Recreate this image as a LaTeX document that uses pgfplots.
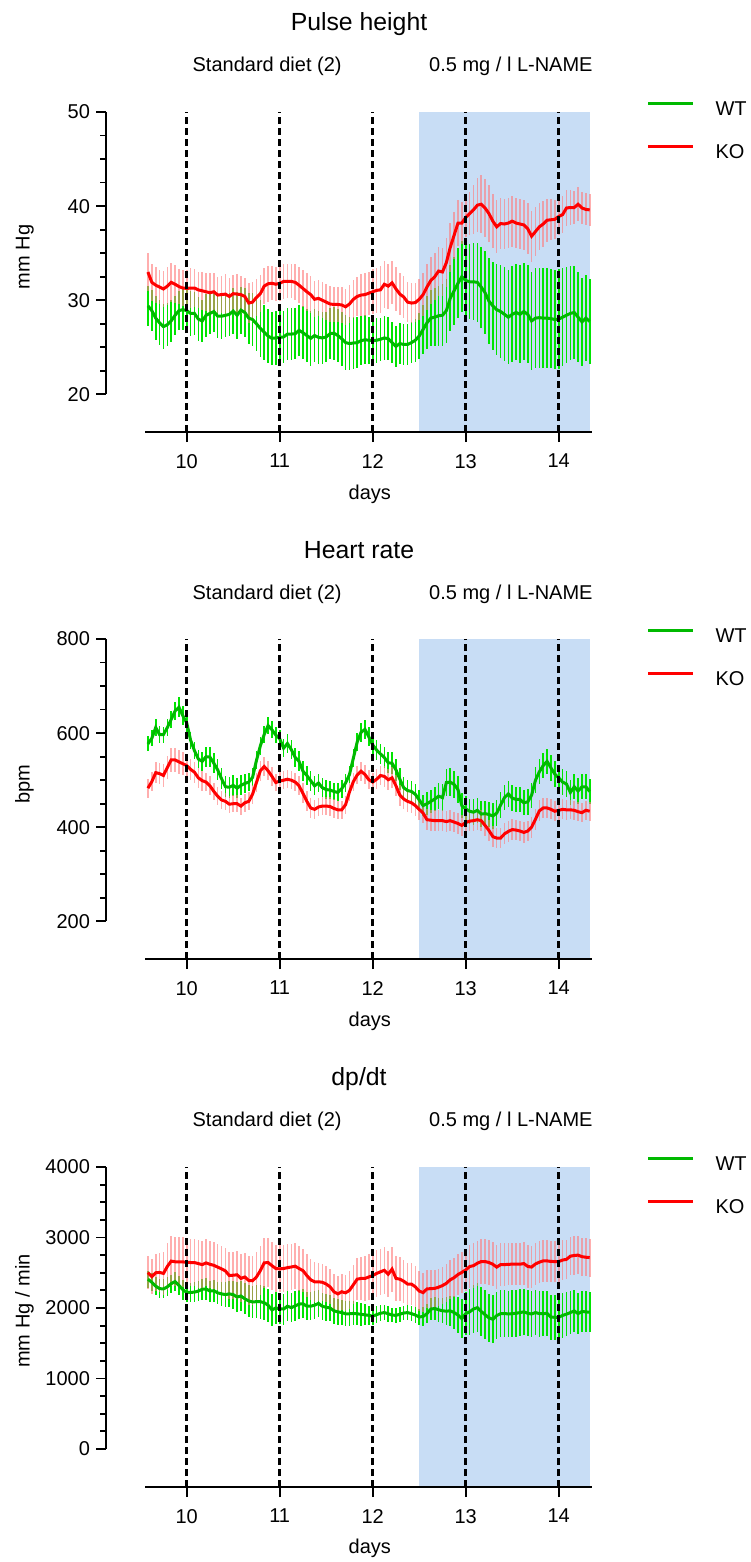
\documentclass[border=0pt]{standalone}
\usepackage{pgfplots}
\pgfplotsset{compat=1.18}
\usepackage{pgfplotstable}
\usepackage{fontspec}
\setmainfont{Liberation Sans}
\definecolor{bgblue}{RGB}{200,221,245}
\definecolor{wtline}{RGB}{0,185,0}
\definecolor{wtbar}{RGB}{0,228,0}
\definecolor{koline}{RGB}{255,0,0}
\definecolor{kobar}{RGB}{255,120,120}

% Pulse height (mm Hg)
\pgfplotstableread{
x wt wte ko koe
9.583 29.4 2.1 33.0 2.0
9.625 28.9 2.2 31.9 2.0
9.667 28.1 2.3 31.6 1.9
9.708 27.6 2.4 31.4 1.8
9.750 27.2 2.4 31.2 1.9
9.792 27.4 2.3 31.5 2.0
9.833 27.8 2.2 31.9 2.1
9.875 28.4 2.1 31.7 2.0
9.917 28.9 2.1 31.45 1.9
9.958 29.0 2.2 31.3 1.9
10.000 28.9 2.3 31.25 2.0
10.042 28.6 2.4 31.3 2.1
10.083 28.6 2.3 31.3 2.0
10.125 28.0 2.3 31.1 1.9
10.167 27.8 2.2 31.0 2.0
10.208 28.4 2.3 30.9 2.0
10.250 28.6 2.2 30.8 2.1
10.292 28.8 2.2 30.9 2.0
10.333 28.3 2.3 30.55 1.9
10.375 28.3 2.4 30.6 2.0
10.417 28.4 2.3 30.65 2.1
10.458 28.5 2.3 30.4 2.0
10.500 28.85 2.4 30.7 2.0
10.542 28.4 2.5 30.65 2.1
10.583 28.95 2.5 30.6 2.0
10.625 28.7 2.6 30.4 2.0
10.667 28.1 2.7 29.7 2.1
10.708 27.95 2.8 29.8 2.1
10.750 27.5 2.9 30.3 2.0
10.792 27.0 3.0 30.7 2.0
10.833 26.6 2.9 31.5 1.9
10.875 26.2 2.9 31.75 1.9
10.917 25.95 2.8 31.8 1.8
10.958 26.0 2.9 31.7 1.8
11.000 26.05 2.9 31.8 1.9
11.042 26.1 2.8 32.0 1.9
11.083 26.4 2.8 32.0 1.8
11.125 26.4 2.8 32.0 1.8
11.167 26.45 2.7 31.9 1.9
11.208 26.8 2.7 31.6 1.9
11.250 26.55 2.8 31.25 2.0
11.292 26.25 2.8 30.9 2.0
11.333 25.95 2.9 30.6 2.0
11.375 26.25 2.8 30.1 1.9
11.417 26.05 2.8 30.2 1.9
11.458 26.0 2.8 30.0 1.9
11.500 26.1 2.7 29.8 1.9
11.542 26.45 2.7 29.6 1.9
11.583 26.5 2.8 29.55 1.9
11.625 26.25 2.8 29.55 1.9
11.667 25.9 2.9 29.5 1.9
11.708 25.5 2.9 29.3 1.9
11.750 25.4 2.8 29.6 2.0
11.792 25.45 2.8 30.1 2.0
11.833 25.5 2.7 30.4 2.1
11.875 25.7 2.6 30.55 2.2
11.917 25.8 2.6 30.6 2.3
11.958 25.75 2.5 30.75 2.3
12.000 25.7 2.5 30.9 2.4
12.042 25.75 2.4 31.05 2.4
12.083 25.85 2.3 31.1 2.5
12.125 26.0 2.3 31.7 2.5
12.167 25.9 2.3 31.5 2.4
12.208 25.5 2.2 31.85 2.3
12.250 25.1 2.2 31.2 2.3
12.292 25.4 2.2 30.65 2.2
12.333 25.3 2.2 30.35 2.2
12.375 25.3 2.2 29.8 2.1
12.417 25.5 2.2 29.7 2.1
12.458 25.75 2.3 29.75 2.1
12.500 26.2 2.4 30.1 2.2
12.542 26.9 2.6 30.6 2.3
12.583 27.6 2.8 31.4 2.4
12.625 28.1 3.0 32.1 2.5
12.667 28.2 3.1 32.5 2.5
12.708 28.35 3.2 33.1 2.6
12.750 28.4 3.3 33.0 2.6
12.792 28.9 3.4 34.0 2.6
12.833 30.2 3.5 35.6 2.6
12.875 31.0 3.6 36.9 2.5
12.917 31.8 3.7 38.2 2.4
12.958 32.5 3.8 38.2 2.2
13.000 32.1 3.9 38.8 2.1
13.042 31.96 4.0 39.2 2.3
13.083 31.96 4.1 39.6 2.6
13.125 31.9 4.2 40.1 2.9
13.167 31.4 4.3 40.2 3.1
13.208 30.8 4.4 39.8 3.1
13.250 29.9 4.6 39.2 3.0
13.292 29.4 4.7 38.4 2.9
13.333 29.0 4.8 37.8 2.8
13.375 28.8 4.9 38.15 2.7
13.417 28.5 5.0 38.1 2.7
13.458 28.2 5.0 38.2 2.7
13.500 28.5 5.1 38.4 2.7
13.542 28.7 5.1 38.2 2.7
13.583 28.5 5.2 38.1 2.7
13.625 28.8 5.2 38.0 2.7
13.667 28.5 5.2 37.6 2.7
13.708 27.8 5.2 36.8 2.7
13.750 28.1 5.3 37.3 2.6
13.792 28.15 5.3 37.8 2.5
13.833 28.1 5.3 38.1 2.4
13.875 28.1 5.3 38.5 2.3
13.917 28.05 5.3 38.55 2.2
13.958 27.95 5.3 38.6 2.1
14.000 28.0 5.3 38.9 2.0
14.042 28.2 5.2 39.1 2.0
14.083 28.4 5.1 39.8 1.9
14.125 28.6 5.0 39.85 1.9
14.167 28.7 4.9 39.85 1.8
14.208 28.2 4.8 40.2 1.8
14.250 27.7 4.7 39.8 1.7
14.292 28.1 4.6 39.65 1.7
14.333 27.75 4.5 39.6 1.7
}\tabA

% Heart rate (bpm)
\pgfplotstableread{
x wt wte ko koe
9.583 577 16 483 20
9.625 589 17 497 21
9.667 612 19 516 22
9.708 597 18 514 23
9.750 597 17 510 24
9.792 612 18 527 25
9.833 629 19 543 26
9.875 647 20 543 26
9.917 655 21 539 25
9.958 637 20 535 25
10.000 622 19 531 24
10.042 585 18 523 23
10.083 563 18 517 22
10.125 545 19 505 21
10.167 540 20 499 21
10.208 550 21 496 20
10.250 549 21 488 20
10.292 536 21 476 19
10.333 522 22 466 19
10.375 503 22 458 19
10.417 486 22 455 18
10.458 485 22 449 18
10.500 489 22 450 18
10.542 483 21 450 18
10.583 489 21 445 18
10.625 493 20 452 19
10.667 496 20 455 19
10.708 506 19 470 20
10.750 542 19 495 21
10.792 573 19 520 21
10.833 597 19 529 21
10.875 616 18 520 20
10.917 607 18 508 20
10.958 596 18 495 19
11.000 588 18 498 19
11.042 568 19 500 19
11.083 578 20 502 19
11.125 565 20 500 19
11.167 548 21 496 20
11.208 540 21 488 20
11.250 519 21 472 21
11.292 510 21 455 21
11.333 499 21 441 21
11.375 488 20 438 20
11.417 494 20 443 20
11.458 484 20 445 20
11.500 480 20 445 20
11.542 479 19 444 20
11.583 476 19 440 20
11.625 474 19 437 19
11.667 482 19 437 19
11.708 494 19 448 19
11.750 512 19 475 19
11.792 547 19 497 19
11.833 581 19 511 19
11.875 602 20 519 20
11.917 608 20 512 20
11.958 592 20 501 20
12.000 575 20 496 20
12.042 564 21 502 21
12.083 556 21 510 21
12.125 548 22 508 22
12.167 537 22 501 22
12.208 536 23 505 22
12.250 522 23 488 22
12.292 502 23 468 22
12.333 484 23 460 22
12.375 478 22 455 22
12.417 476 22 452 22
12.458 470 22 446 22
12.500 458 22 438 22
12.542 446 23 430 22
12.583 450 24 416 22
12.625 455 25 415 22
12.667 460 26 414 22
12.708 466 27 414 22
12.750 463 28 414 22
12.792 495 29 412 22
12.833 496 29 414 22
12.875 491 28 411 22
12.917 480 28 408 22
12.958 446 27 404 22
13.000 439 27 410 22
13.042 434 27 413 22
13.083 432 27 414 22
13.125 436 27 416 22
13.167 428 27 414 22
13.208 429 27 404 22
13.250 427 27 393 22
13.292 424 27 380 22
13.333 430 27 377 22
13.375 447 27 377 22
13.417 463 27 386 22
13.458 471 27 391 22
13.500 462 27 395 22
13.542 459 27 394 22
13.583 459 27 392 22
13.625 452 27 389 22
13.667 454 27 392 22
13.708 468 27 400 22
13.750 500 27 417 22
13.792 518 27 435 22
13.833 531 27 441 21
13.875 540 27 441 21
13.917 526 27 438 21
13.958 513 27 434 21
14.000 505 27 436 21
14.042 496 27 438 21
14.083 492 27 437 21
14.125 474 27 437 20
14.167 486 27 436 20
14.208 477 27 433 20
14.250 486 27 431 20
14.292 486 27 436 20
14.333 476 27 434 20
}\tabB

% dp/dt (mm Hg / min)
\pgfplotstableread{
x wt wte ko koe
9.583 2409 120 2503 240
9.625 2365 125 2445 250
9.667 2310 130 2500 260
9.708 2275 135 2505 280
9.750 2270 135 2490 300
9.792 2300 135 2590 330
9.833 2345 130 2665 350
9.875 2375 130 2656 350
9.917 2320 135 2654 350
9.958 2260 140 2654 350
10.000 2221 140 2648 345
10.042 2221 140 2645 340
10.083 2225 145 2645 340
10.125 2240 145 2630 340
10.167 2265 150 2615 340
10.208 2270 150 2640 335
10.250 2240 150 2620 335
10.292 2245 155 2605 330
10.333 2215 160 2580 330
10.375 2200 170 2555 330
10.417 2190 180 2525 330
10.458 2200 190 2460 330
10.500 2190 200 2465 335
10.542 2155 210 2471 340
10.583 2170 215 2420 340
10.625 2130 220 2440 340
10.667 2100 225 2390 345
10.708 2085 230 2386 345
10.750 2090 235 2440 350
10.792 2090 240 2530 350
10.833 2075 240 2640 350
10.875 2040 235 2645 345
10.917 1972 230 2600 340
10.958 2000 225 2560 340
11.000 1990 220 2555 335
11.042 1985 220 2560 335
11.083 2025 215 2572 335
11.125 2005 210 2582 330
11.167 2030 210 2593 330
11.208 2055 205 2560 320
11.250 2060 205 2530 310
11.292 2025 200 2460 300
11.333 2025 200 2400 290
11.375 2040 195 2372 280
11.417 2065 195 2372 270
11.458 2025 190 2365 260
11.500 2010 190 2340 255
11.542 2000 185 2300 250
11.583 1960 185 2230 250
11.625 1945 180 2200 250
11.667 1935 180 2230 255
11.708 1918 180 2215 260
11.750 1918 175 2250 270
11.792 1923 170 2330 280
11.833 1918 165 2409 295
11.875 1910 160 2419 305
11.917 1903 150 2419 315
11.958 1895 140 2440 320
12.000 1885 130 2460 325
12.042 1905 120 2490 330
12.083 1925 115 2513 330
12.125 1935 110 2535 330
12.167 1918 110 2480 325
12.208 1900 105 2551 320
12.250 1895 105 2420 315
12.292 1912 105 2409 310
12.333 1928 105 2380 305
12.375 1935 105 2339 300
12.417 1920 110 2339 295
12.458 1900 115 2300 290
12.500 1872 120 2240 285
12.542 1880 130 2218 280
12.583 1920 140 2270 275
12.625 1985 150 2275 270
12.667 1993 160 2278 265
12.708 1975 170 2295 265
12.750 1960 180 2318 265
12.792 1955 195 2350 270
12.833 1960 210 2400 275
12.875 1935 230 2430 280
12.917 1900 250 2475 285
12.958 1850 280 2505 290
13.000 1920 310 2540 300
13.042 1945 330 2588 310
13.083 1985 340 2600 320
13.125 2005 345 2635 320
13.167 1950 345 2659 320
13.208 1905 345 2659 320
13.250 1860 340 2645 315
13.292 1840 340 2620 310
13.333 1892 335 2580 310
13.375 1920 335 2615 305
13.417 1922 335 2615 305
13.458 1915 330 2620 300
13.500 1920 330 2621 300
13.542 1925 330 2621 300
13.583 1935 330 2621 300
13.625 1945 330 2630 300
13.667 1925 325 2590 300
13.708 1915 325 2580 300
13.750 1935 325 2625 300
13.792 1920 325 2650 300
13.833 1918 320 2668 300
13.875 1925 320 2668 300
13.917 1870 320 2660 295
13.958 1868 320 2659 290
14.000 1868 320 2659 285
14.042 1895 315 2680 280
14.083 1912 310 2690 275
14.125 1935 305 2735 270
14.167 1958 300 2745 270
14.208 1920 295 2750 270
14.250 1950 290 2728 270
14.292 1945 290 2720 270
14.333 1939 285 2715 270
}\tabC

\pgfplotsset{
  panel/.style={
    anchor=south west,
    scale only axis, width=243.1pt, height=160pt,
    xmin=9.1323, xmax=14.36,
    axis x line=bottom, axis y line=left,
    axis on top,
    x axis line style={-, line width=1pt, shorten <=19.65pt},
    y axis line style={-, line width=1pt, shorten <=18.8pt},
    xtick={10,11,12,13,14},
    tick align=outside,
    major tick length=5pt, minor tick length=3pt,
    every tick/.style={black, line width=0.9pt},
    tick label style={font=\fontsize{10}{12}\selectfont},
    xticklabel style={yshift=-2.5pt},
    yticklabel style={xshift=0.5pt},
    /pgf/number format/assume math mode=true,
    /pgf/number format/1000 sep={},
    scaled y ticks=false,
    clip=false,
    legend style={at={(rel axis cs:1.111,1.0338)}, anchor=north west, draw=none, fill=none, inner sep=0pt, font=\fontsize{10}{12}\selectfont, row sep=13pt, nodes={inner sep=0pt}},
    legend cell align=left,
    legend image code/.code={\draw[##1,line width=1.5pt] (0pt,3.6pt) -- (22.5pt,3.6pt); \path (33pt,3.6pt);},
  },
  ebar/.style={draw=none, mark=none, forget plot, error bars/.cd, y dir=both, y explicit, error mark=none, error bar style={line width=0.8pt,#1}},
}
\tikzset{txt/.style={inner sep=0pt, font=\fontsize{10}{12}\selectfont},
  ttl/.style={inner sep=0pt, font=\fontsize{12.4}{15}\selectfont},
  dline/.style={black, line width=1.4pt, dash pattern=on 3.5pt off 2pt}}

\begin{document}
\begin{tikzpicture}
% ---------- Pulse height ----------
\begin{axis}[panel, at={(53pt,-216pt)}, ymin=16, ymax=50, ytick={20,30,40,50},
  minor ytick={22.5,25,27.5,32.5,35,37.5,42.5,45,47.5}]
\fill[bgblue] (axis cs:12.5,16) rectangle (axis cs:14.337,50);
\addplot[ebar={wtbar}] table[x=x,y=wt,y error=wte]{\tabA};
\addplot[ebar={kobar,opacity=0.6}] table[x=x,y=ko,y error=koe]{\tabA};
\addplot[wtline, line width=1.5pt, mark=none] table[x=x,y=wt]{\tabA};
\addlegendentry{WT}
\addplot[koline, line width=1.5pt, mark=none] table[x=x,y=ko]{\tabA};
\addlegendentry{KO}
\pgfplotsinvokeforeach{10,11,12,13,14}{\draw[dline] (axis cs:#1,16) -- (axis cs:#1,50);}
\end{axis}
% ---------- Heart rate ----------
\begin{axis}[panel, at={(53pt,-479.5pt)}, ymin=120, ymax=800, ytick={200,400,600,800},
  minor ytick={250,300,350,450,500,550,650,700,750}]
\fill[bgblue] (axis cs:12.5,120) rectangle (axis cs:14.337,800);
\addplot[ebar={wtbar}] table[x=x,y=wt,y error=wte]{\tabB};
\addplot[ebar={kobar,opacity=0.6}] table[x=x,y=ko,y error=koe]{\tabB};
\addplot[wtline, line width=1.5pt, mark=none] table[x=x,y=wt]{\tabB};
\addlegendentry{WT}
\addplot[koline, line width=1.5pt, mark=none] table[x=x,y=ko]{\tabB};
\addlegendentry{KO}
\pgfplotsinvokeforeach{10,11,12,13,14}{\draw[dline] (axis cs:#1,120) -- (axis cs:#1,800);}
\end{axis}
% ---------- dp/dt ----------
\begin{axis}[panel, at={(53pt,-743.5pt)}, ymin=-540, ymax=4000, ytick={0,1000,2000,3000,4000},
  minor ytick={250,500,750,1250,1500,1750,2250,2500,2750,3250,3500,3750}]
\fill[bgblue] (axis cs:12.5,-540) rectangle (axis cs:14.337,4000);
\addplot[ebar={wtbar}] table[x=x,y=wt,y error=wte]{\tabC};
\addplot[ebar={kobar,opacity=0.6}] table[x=x,y=ko,y error=koe]{\tabC};
\addplot[wtline, line width=1.5pt, mark=none] table[x=x,y=wt]{\tabC};
\addlegendentry{WT}
\addplot[koline, line width=1.5pt, mark=none] table[x=x,y=ko]{\tabC};
\addlegendentry{KO}
\pgfplotsinvokeforeach{10,11,12,13,14}{\draw[dline] (axis cs:#1,-540) -- (axis cs:#1,4000);}
\end{axis}

% ---------- texts ----------
\node[ttl, anchor=base] at (179.5pt,-15.5pt) {Pulse height};
\node[txt, anchor=base east] at (171pt,-36pt) {Standard diet (2)};
\node[txt, anchor=base east] at (296.5pt,-36pt) {0.5 mg / l L-NAME};
\node[txt, rotate=90, anchor=base] at (14.75pt,-128.5pt) {mm Hg};
\node[txt, anchor=base] at (184.9pt,-249.75pt) {days};

\node[ttl, anchor=base] at (179.5pt,-279pt) {Heart rate};
\node[txt, anchor=base east] at (171pt,-299.5pt) {Standard diet (2)};
\node[txt, anchor=base east] at (296.5pt,-299.5pt) {0.5 mg / l L-NAME};
\node[txt, rotate=90, anchor=base] at (14.75pt,-392pt) {bpm};
\node[txt, anchor=base] at (184.9pt,-513.25pt) {days};

\node[ttl, anchor=base] at (179.5pt,-542.5pt) {dp/dt};
\node[txt, anchor=base east] at (171pt,-563pt) {Standard diet (2)};
\node[txt, anchor=base east] at (296.5pt,-563pt) {0.5 mg / l L-NAME};
\node[txt, rotate=90, anchor=base] at (14.75pt,-655.5pt) {mm Hg / min};
\node[txt, anchor=base] at (184.9pt,-776.75pt) {days};

\pgfresetboundingbox
\useasboundingbox (0pt,0pt) rectangle (375pt,-781pt);
\end{tikzpicture}
\end{document}
